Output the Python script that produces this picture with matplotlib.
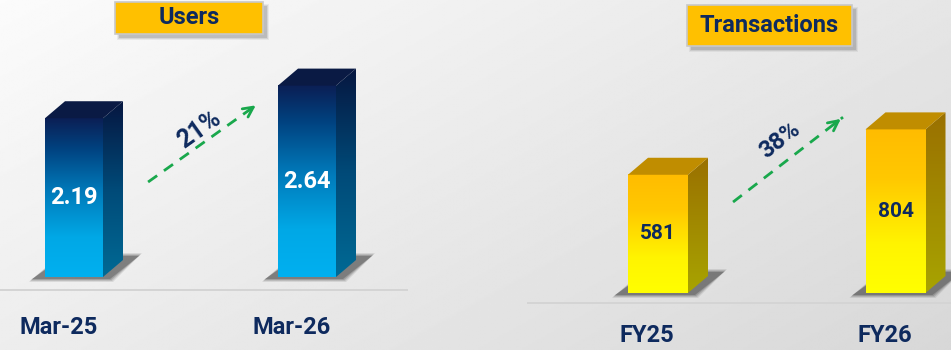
import numpy as np
import matplotlib.pyplot as plt
from matplotlib.patches import Polygon, Rectangle
from matplotlib.colors import LinearSegmentedColormap

plt.rcParams['font.family'] = ['Roboto', 'DejaVu Sans']

W, H = 951, 350

# data
users_labels = ["Mar-25", "Mar-26"]
users_values = [2.19, 2.64]
txn_labels = ["FY25", "FY26"]
txn_values = [581, 804]

NAVY = "#0e2a5e"
GREEN = "#19a84c"

fig = plt.figure(figsize=(W / 100, H / 100), dpi=100)

# soft grey background, lighter at the top left
bg = fig.add_axes([0, 0, 1, 1])
yy, xx = np.mgrid[0:1:200j, 0:1:500j]
t = 0.6 * xx + 0.4 * yy
bg.imshow(0.985 - 0.14 * t, cmap="gray", vmin=0, vmax=1, extent=[0, 1, 0, 1], aspect="auto")
bg.set_xlim(0, 1)
bg.set_ylim(0, 1)
bg.axis("off")


def cmap(stops):
    return LinearSegmentedColormap.from_list("g", stops)


def px(ax, dx_px, dy_px):
    # convert a pixel offset into data units of ax
    x0, x1 = ax.get_xlim()
    y0, y1 = ax.get_ylim()
    bb = ax.get_position()
    return dx_px * (x1 - x0) / (bb.width * W), dy_px * (y1 - y0) / (bb.height * H)


def draw_bar(ax, x, v, st):
    grad = np.linspace(0, 1, 256).reshape(-1, 1)
    hw, _ = px(ax, st["width"] / 2, 0)
    dx, dy = px(ax, st["depth"][0], st["depth"][1])
    xl, xr = x - hw, x + hw

    # blurred shadow at the foot of the bar
    for k, a in enumerate([0.10, 0.14, 0.18, 0.25]):
        g = 3 - k
        ox, oy = px(ax, g, g)
        sx0, sy0 = px(ax, -13, -2)
        sx1, sy1 = px(ax, 7, 4)
        sx2, sy2 = px(ax, 16, 4)
        pts = [(xl + sx0 - ox, sy0 - oy), (xr + sx1 + ox, sy0 - oy),
               (xr + dx + sx2 + ox, dy + sy1 + oy), (xl + dx - ox, dy + sy1 + oy)]
        ax.add_patch(Polygon(pts, closed=True, fc="#1e1e1e", ec="none", alpha=a, zorder=2, clip_on=False))

    # front face
    ax.imshow(grad, cmap=st["front"], extent=[xl, xr, 0, v], origin="lower",
              aspect="auto", zorder=4, clip_on=False)
    # side face
    side = Polygon([(xr, 0), (xr + dx, dy), (xr + dx, v + dy), (xr, v)], closed=True,
                   fc="none", ec="none", transform=ax.transData)
    ax.add_patch(side)
    im = ax.imshow(grad, cmap=st["side"], extent=[xr, xr + dx, 0, v + dy], origin="lower",
                   aspect="auto", zorder=4)
    im.set_clip_path(side)
    # top face
    ax.add_patch(Polygon([(xl, v), (xr, v), (xr + dx, v + dy), (xl + dx, v + dy)], closed=True,
                         fc=st["top"], ec="none", zorder=4, clip_on=False))


def panel(labels, values, st):
    x0, x1 = st["span"]
    c0, c1 = st["centers"]
    step = c1 - c0
    base = st["base"]
    ax = fig.add_axes([x0 / W, 0, (x1 - x0) / W, 1])
    xlim = ((x0 - c0) / step, (x1 - c0) / step)
    ylim = (-(H - base) / st["ppu"], base / st["ppu"])
    ax.set_xlim(xlim)
    ax.set_ylim(ylim)
    ax.axis("off")

    for i, v in enumerate(values):
        draw_bar(ax, i, v, st)
        ax.text(i, v / 2, f"{v}", ha="center", va="center", color=st["val_color"],
                fontsize=st["val_size"], fontweight="bold", zorder=6)
        ax.annotate(labels[i], (i, 0), xytext=(st["label_off"][0], -st["label_off"][1]),
                    textcoords="offset pixels", ha="center", va="center", color=NAVY,
                    fontsize=17, fontweight="bold")

    # floor line
    _, ly = px(ax, 0, st["line_off"])
    ax.axhline(-ly, color="#d4d4d4", lw=1.4, zorder=1)

    # growth arrow
    (ax0, ay0), (ax1, ay1) = st["arrow"]
    ax.plot([ax0, ax1], [ay0, ay1], color=GREEN, lw=2, ls=(0, (4, 3)), zorder=5)
    ax.annotate("", xy=(ax1, ay1), xytext=(ax0 + 0.9 * (ax1 - ax0), ay0 + 0.9 * (ay1 - ay0)),
                arrowprops=dict(arrowstyle="->", color=GREEN, lw=2, mutation_scale=18), zorder=5)
    p0 = ax.transData.transform((ax0, ay0))
    p1 = ax.transData.transform((ax1, ay1))
    ang = np.degrees(np.arctan2(p1[1] - p0[1], p1[0] - p0[0]))
    growth = round((values[1] / values[0] - 1) * 100)
    ax.text(st["pct"][0], st["pct"][1], f"{growth}%", rotation=ang, rotation_mode="anchor",
            ha="center", va="center", color=NAVY, fontsize=st["pct_size"], fontweight="bold", zorder=6)

    ax.set_xlim(xlim)
    ax.set_ylim(ylim)

    # title box with drop shadow
    bx0, by0, bx1, by1 = st["title_box"]
    for k, a in enumerate([0.08, 0.12, 0.18]):
        g = 2 - k
        fig.patches.append(Rectangle(((bx0 + 4 - g) / W, 1 - (by1 + 4 + g) / H),
                                     (bx1 - bx0 + 2 * g) / W, (by1 - by0 + 2 * g) / H,
                                     transform=fig.transFigure, fc="#505050", ec="none", alpha=a, zorder=3))
    fig.patches.append(Rectangle((bx0 / W, 1 - by1 / H), (bx1 - bx0) / W, (by1 - by0) / H,
                                 transform=fig.transFigure, fc="#ffc000", ec="#c8c8c8", lw=1.2, zorder=4))
    fig.text((bx0 + bx1) / 2 / W, 1 - (by0 + by1) / 2 / H, st["title"], ha="center", va="center",
             color=NAVY, fontsize=17, fontweight="bold", zorder=5)


users_style = dict(
    span=(0, 408), centers=(74, 307), base=277, ppu=72.5,
    width=58, depth=(20, 17),
    front=cmap([(0, "#00b0f0"), (0.25, "#00a8e6"), (0.55, "#0078b8"), (0.8, "#004482"), (1, "#0b1f55")]),
    side=cmap([(0, "#006a95"), (0.5, "#004a78"), (1, "#061640")]), top="#0a1a44",
    val_color="white", val_size=17, label_off=(-15, 50), line_off=13,
    arrow=((0.318, 1.31), (0.79, 2.39)), pct=(0.536, 2.04), pct_size=18,
    title="Users", title_box=(115, 2, 263, 34),
)

txn_style = dict(
    span=(527, 951), centers=(658, 895.5), base=293, ppu=0.2035,
    width=60, depth=(20, 17),
    front=cmap([(0, "#ffff00"), (0.3, "#fff400"), (0.7, "#ffc800"), (1, "#ffbc00")]),
    side=cmap([(0, "#a8a400"), (1, "#9a7000")]), top="#c08d00",
    val_color=NAVY, val_size=15, label_off=(-11, 42), line_off=10,
    arrow=((0.316, 447), (0.779, 864)), pct=(0.514, 751), pct_size=17,
    title="Transactions", title_box=(687, 5, 852, 46),
)

panel(users_labels, users_values, users_style)
panel(txn_labels, txn_values, txn_style)

fig.savefig("out.png", dpi=100)
